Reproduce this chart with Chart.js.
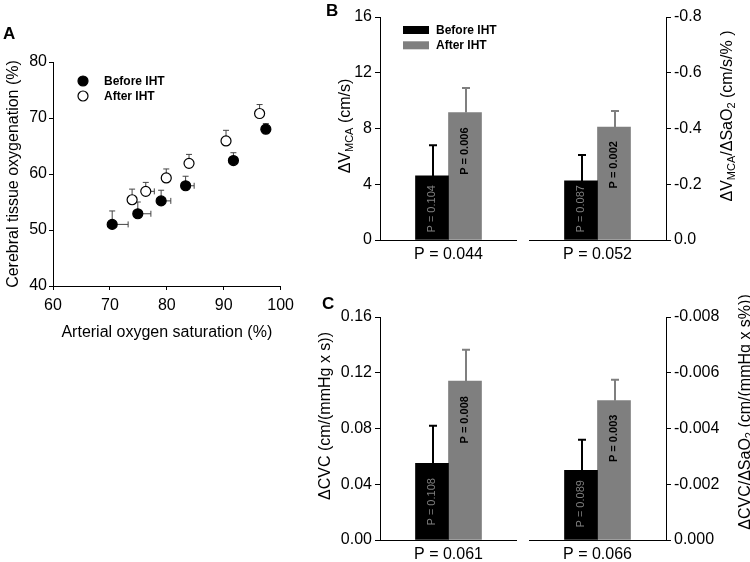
<!DOCTYPE html>
<html>
<head>
<meta charset="utf-8">
<script src="https://cdn.jsdelivr.net/npm/chart.js@4.4.1/dist/chart.umd.min.js"></script>
<style>
  html, body { margin: 0; padding: 0; background: #fff; }
  body { width: 750px; height: 562px; position: relative; overflow: hidden; font-family: "Liberation Sans", Arial, sans-serif; }
  .box { position: absolute; }
  .letter { position: absolute; font-weight: bold; font-size: 17px; color: #000; }
  .ytitle { position: absolute; font-size: 16px; color: #000; white-space: nowrap; transform: translate(-50%, -50%) rotate(-90deg); }
  .ytitle .sub { font-size: 11px; vertical-align: -3px; }
</style>
</head>
<body>
<div class="box" style="left:0;top:40px;width:300px;height:310px"><canvas id="chartA"></canvas></div>
<div class="box" style="left:300px;top:0;width:217px;height:270px"><canvas id="chartB1"></canvas></div>
<div class="box" style="left:525px;top:0;width:225px;height:270px"><canvas id="chartB2"></canvas></div>
<div class="box" style="left:300px;top:300px;width:217px;height:262px"><canvas id="chartC1"></canvas></div>
<div class="box" style="left:525px;top:300px;width:225px;height:262px"><canvas id="chartC2"></canvas></div>

<div class="letter" style="left:3px;top:24px">A</div>
<div class="letter" style="left:326px;top:1px">B</div>
<div class="letter" style="left:322px;top:294px">C</div>

<div class="ytitle" style="left:345px;top:126px">ΔV<span class="sub">MCA</span> (cm/s)</div>
<div class="ytitle" style="left:727px;top:116px">ΔV<span class="sub">MCA</span>/ΔSaO<span class="sub">2</span> (cm/s/% )</div>
<div class="ytitle" style="left:325px;top:416px">ΔCVC (cm/(mmHg x s))</div>
<div class="ytitle" style="left:745px;top:412px">ΔCVC/ΔSaO<span class="sub">2</span> (cm/(mmHg x s%))</div>

<script>
// Panel A: arterial saturation vs cerebral oxygenation
const satBefore = [70.4, 74.9, 79.0, 83.3, 91.7, 97.4];
const oxyBefore = [51.0, 52.9, 55.2, 57.9, 62.4, 68.0];
const satBeforeErr = [2.8, 2.3, 1.7, 1.5, 0.5, 0.3];
const oxyBeforeErr = [2.4, 2.1, 1.9, 1.7, 1.4, 1.0];
const satAfter = [73.9, 76.3, 79.9, 83.9, 90.4, 96.3];
const oxyAfter = [55.4, 56.9, 59.3, 61.9, 65.9, 70.8];
const satAfterErr = [0.5, 1.5, 0.6, 0.5, 0.3, 0.3];
const oxyAfterErr = [1.9, 1.6, 1.6, 1.6, 1.9, 1.6];

// Panel B: delta V_MCA
const vmcaCat = ['P = 0.044'];
const vmcaBefore = [4.6];
const vmcaAfter = [9.15];
const vmcaBeforeErr = [2.2];
const vmcaAfterErr = [1.75];
const vmcaBeforeP = ['P = 0.104'];
const vmcaAfterP = ['P = 0.006'];

const vmcaRatioCat = ['P = 0.052'];
const vmcaRatioBefore = [-0.212];
const vmcaRatioAfter = [-0.405];
const vmcaRatioBeforeErr = [0.093];
const vmcaRatioAfterErr = [0.058];
const vmcaRatioBeforeP = ['P = 0.087'];
const vmcaRatioAfterP = ['P = 0.002'];

// Panel C: delta CVC
const cvcCat = ['P = 0.061'];
const cvcBefore = [0.055];
const cvcAfter = [0.114];
const cvcBeforeErr = [0.027];
const cvcAfterErr = [0.0225];
const cvcBeforeP = ['P = 0.108'];
const cvcAfterP = ['P = 0.008'];

const cvcRatioCat = ['P = 0.066'];
const cvcRatioBefore = [-0.0025];
const cvcRatioAfter = [-0.005];
const cvcRatioBeforeErr = [0.0011];
const cvcRatioAfterErr = [0.00075];
const cvcRatioBeforeP = ['P = 0.089'];
const cvcRatioAfterP = ['P = 0.003'];

const FONT = '"Liberation Sans", Arial, sans-serif';
const GRAY = '#7f7f7f';
Chart.defaults.font.family = FONT;
Chart.defaults.color = '#000';
Chart.defaults.animation = false;

// draws one-sided error bars for scatter points (x to the right, y upward)
const scatterErrors = {
    id: 'scatterErrors',
    beforeDatasetsDraw(chart) {
        const ctx = chart.ctx;
        const xs = chart.scales.x, ys = chart.scales.y;
        ctx.save();
        ctx.strokeStyle = '#444';
        ctx.lineWidth = 1;
        chart.data.datasets.forEach(ds => {
            ds.data.forEach((pt, i) => {
                const px = xs.getPixelForValue(pt.x), py = ys.getPixelForValue(pt.y);
                const ex = xs.getPixelForValue(pt.x + ds.errX[i]);
                const ey = ys.getPixelForValue(pt.y + ds.errY[i]);
                ctx.beginPath();
                ctx.moveTo(px, py); ctx.lineTo(ex, py);
                ctx.moveTo(ex, py - 3); ctx.lineTo(ex, py + 3);
                ctx.moveTo(px, py); ctx.lineTo(px, ey);
                ctx.moveTo(px - 3, ey); ctx.lineTo(px + 3, ey);
                ctx.stroke();
            });
        });
        ctx.restore();
    },
    afterDraw(chart) {
        const ctx = chart.ctx;
        const a = chart.chartArea;
        ctx.save();
        ctx.font = 'bold 12px ' + FONT;
        ctx.textBaseline = 'middle';
        ctx.fillStyle = '#000';
        ctx.strokeStyle = '#000';
        ctx.lineWidth = 1.2;
        chart.data.datasets.forEach((ds, i) => {
            const cy = a.top + 19 + i * 15;
            ctx.beginPath();
            ctx.arc(a.left + 30, cy, 5, 0, Math.PI * 2);
            ctx.fillStyle = ds.backgroundColor;
            ctx.fill();
            ctx.stroke();
            ctx.fillStyle = '#000';
            ctx.fillText(ds.label, a.left + 51, cy + 1);
        });
        ctx.restore();
    }
};

// error bars, rotated p-values and legend for bar panels
const barExtras = {
    id: 'barExtras',
    afterDatasetsDraw(chart, args, opts) {
        const ctx = chart.ctx;
        const ys = chart.scales.y;
        ctx.save();
        chart.data.datasets.forEach((ds, di) => {
            const meta = chart.getDatasetMeta(di);
            meta.data.forEach((bar, i) => {
                const v = ds.data[i];
                const sign = v < 0 ? -1 : 1;
                const ey = ys.getPixelForValue(v + sign * ds.errors[i]);
                const top = Math.min(bar.y, bar.base), bottom = Math.max(bar.y, bar.base);
                ctx.strokeStyle = ds.backgroundColor;
                ctx.lineWidth = 2;
                ctx.beginPath();
                ctx.moveTo(bar.x + 1, top);
                ctx.lineTo(bar.x + 1, ey);
                ctx.moveTo(bar.x - 3, ey);
                ctx.lineTo(bar.x + 5, ey);
                ctx.stroke();

                ctx.save();
                ctx.translate(bar.x, di === 0 ? bottom - opts.baseGap : top + opts.topGap);
                ctx.rotate(-Math.PI / 2);
                ctx.textBaseline = 'middle';
                if (di === 0) {
                    ctx.font = '11px ' + FONT;
                    ctx.fillStyle = GRAY;
                    ctx.textAlign = 'left';
                } else {
                    ctx.font = 'bold 11px ' + FONT;
                    ctx.fillStyle = '#000';
                    ctx.textAlign = 'right';
                }
                ctx.fillText(ds.pLabels[i], 0, 0);
                ctx.restore();
            });
        });
        if (opts.legend) {
            ctx.font = 'bold 12px ' + FONT;
            ctx.textBaseline = 'middle';
            chart.data.datasets.forEach((ds, di) => {
                const y = 26 + di * 15.3;
                ctx.fillStyle = ds.backgroundColor;
                ctx.fillRect(103, y, 26, 8);
                ctx.fillStyle = '#000';
                ctx.fillText(ds.label, 136, y + 4.5);
            });
        }
        ctx.restore();
    }
};

new Chart(document.getElementById('chartA'), {
    type: 'scatter',
    data: {
        datasets: [
            {
                label: 'Before IHT',
                data: satBefore.map((x, i) => ({ x: x, y: oxyBefore[i] })),
                errX: satBeforeErr, errY: oxyBeforeErr,
                backgroundColor: '#000', borderColor: '#000',
                pointRadius: 5, pointBorderWidth: 1.2
            },
            {
                label: 'After IHT',
                data: satAfter.map((x, i) => ({ x: x, y: oxyAfter[i] })),
                errX: satAfterErr, errY: oxyAfterErr,
                backgroundColor: '#fff', borderColor: '#000',
                pointRadius: 5, pointBorderWidth: 1.2
            }
        ]
    },
    options: {
        responsive: true,
        maintainAspectRatio: false,
        clip: false,
        layout: { padding: { top: 22, right: 16, bottom: 8, left: 0 } },
        plugins: { legend: { display: false }, tooltip: { enabled: false } },
        scales: {
            x: {
                min: 60, max: 100,
                ticks: { stepSize: 10, font: { size: 16 }, padding: 6 },
                grid: { drawOnChartArea: false, tickLength: 4, color: '#000' },
                border: { color: '#000' },
                title: { display: true, text: 'Arterial oxygen saturation (%)', font: { size: 16 }, padding: 0 },
                afterFit: s => { s.height = 56; }
            },
            y: {
                min: 40, max: 80,
                ticks: { stepSize: 10, font: { size: 16 }, padding: 2 },
                grid: { drawOnChartArea: false, tickLength: 4, color: '#000' },
                border: { color: '#000' },
                title: { display: true, text: 'Cerebral tissue oxygenation (%)', font: { size: 16 }, padding: { top: 4, bottom: 0 } },
                afterFit: s => { s.width = 53; }
            }
        }
    },
    plugins: [scatterErrors]
});

function barChart(id, cats, before, after, beforeErr, afterErr, beforeP, afterP, yOpts, rightSide, extras) {
    const y = Object.assign({
        position: rightSide ? 'right' : 'left',
        grid: { drawOnChartArea: false, tickLength: 5, color: '#000' },
        border: { color: '#000' },
        afterFit: s => { s.width = rightSide ? 84 : 80; }
    }, yOpts);
    return new Chart(document.getElementById(id), {
        type: 'bar',
        data: {
            labels: cats,
            datasets: [
                { label: 'Before IHT', data: before, errors: beforeErr, pLabels: beforeP, backgroundColor: '#000', barThickness: 33 },
                { label: 'After IHT', data: after, errors: afterErr, pLabels: afterP, backgroundColor: GRAY, barThickness: 33 }
            ]
        },
        options: {
            responsive: true,
            maintainAspectRatio: false,
            layout: { padding: { top: extras.top, right: 0, bottom: 0, left: rightSide ? 4 : 0 } },
            plugins: {
                legend: { display: false },
                tooltip: { enabled: false },
                barExtras: { baseGap: extras.baseGap, topGap: extras.topGap, legend: extras.legend }
            },
            scales: {
                x: {
                    grid: { display: false },
                    border: { color: '#000' },
                    ticks: { font: { size: 16 }, padding: -3 },
                    afterFit: s => { s.height = extras.xh; }
                },
                y: y
            }
        },
        plugins: [barExtras]
    });
}

barChart('chartB1', vmcaCat, vmcaBefore, vmcaAfter, vmcaBeforeErr, vmcaAfterErr, vmcaBeforeP, vmcaAfterP,
    { min: 0, max: 16, ticks: { stepSize: 4, font: { size: 16 }, padding: 3 } },
    false, { top: 17, xh: 30, baseGap: 7, topGap: 15, legend: true });

barChart('chartB2', vmcaRatioCat, vmcaRatioBefore, vmcaRatioAfter, vmcaRatioBeforeErr, vmcaRatioAfterErr, vmcaRatioBeforeP, vmcaRatioAfterP,
    { min: -0.8, max: 0, reverse: true, ticks: { stepSize: 0.2, font: { size: 16 }, padding: 3, callback: v => v.toFixed(1) } },
    true, { top: 17, xh: 30, baseGap: 7, topGap: 14, legend: false });

barChart('chartC1', cvcCat, cvcBefore, cvcAfter, cvcBeforeErr, cvcAfterErr, cvcBeforeP, cvcAfterP,
    { min: 0, max: 0.16, ticks: { stepSize: 0.04, font: { size: 16 }, padding: 3, callback: v => v.toFixed(2) } },
    false, { top: 17, xh: 22, baseGap: 14, topGap: 15, legend: false });

barChart('chartC2', cvcRatioCat, cvcRatioBefore, cvcRatioAfter, cvcRatioBeforeErr, cvcRatioAfterErr, cvcRatioBeforeP, cvcRatioAfterP,
    { min: -0.008, max: 0, reverse: true, ticks: { stepSize: 0.002, font: { size: 16 }, padding: 3, callback: v => v.toFixed(3) } },
    true, { top: 17, xh: 22, baseGap: 12, topGap: 14, legend: false });
</script>
</body>
</html>
